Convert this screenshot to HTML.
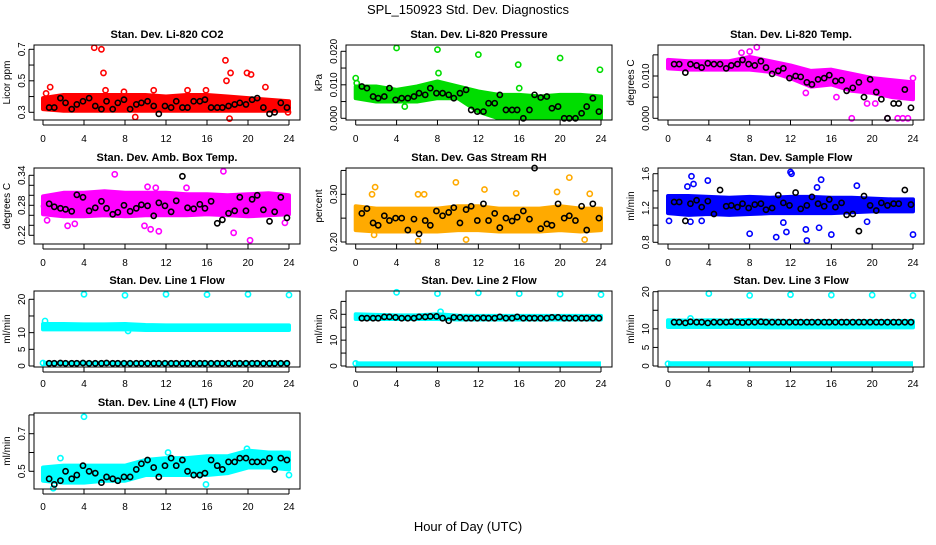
<!DOCTYPE html>
<html><head><meta charset="utf-8"><style>
body{margin:0;background:#fff;}
svg text{font-family:"Liberation Sans",sans-serif;fill:#000;}
</style></head><body>
<svg id="chart" width="936" height="540" xmlns="http://www.w3.org/2000/svg">
<text x="468" y="14" text-anchor="middle" font-size="13">SPL_150923  Std. Dev. Diagnostics</text>
<text x="468" y="531" text-anchor="middle" font-size="13">Hour of Day (UTC)</text>
</svg>
<script>
const blackHours=[0.6,1.1,1.7,2.2,2.8,3.3,3.9,4.5,5.1,5.7,6.2,6.8,7.3,7.9,8.5,9.1,9.6,10.2,10.8,11.3,11.9,12.5,13.0,13.6,14.1,14.7,15.3,15.8,16.4,17.0,17.5,18.1,18.7,19.2,19.8,20.4,20.9,21.5,22.1,22.6,23.2,23.8];
const bandHours=[0,2,4,6,8,10,12,14,16,18,20,22,24];
const xTicks=[0,4,8,12,16,20,24];

const co2Black=[0.33,0.33,0.39,0.36,0.32,0.35,0.37,0.39,0.34,0.32,0.37,0.32,0.36,0.38,0.32,0.35,0.36,0.37,0.34,0.29,0.34,0.33,0.37,0.33,0.33,0.37,0.37,0.38,0.33,0.33,0.33,0.34,0.35,0.36,0.35,0.38,0.39,0.33,0.29,0.30,0.36,0.33];
const co2Lo=[0.32,0.31,0.31,0.31,0.31,0.31,0.31,0.31,0.31,0.31,0.31,0.31,0.31];
const co2Hi=[0.39,0.41,0.41,0.41,0.41,0.41,0.40,0.41,0.41,0.40,0.39,0.38,0.37];
const co2Out=[[5,0.71],[5.7,0.70],[5.9,0.55],[6.1,0.44],[0.7,0.46],[17.8,0.63],[18.3,0.55],[17.9,0.5],[19.9,0.55],[20.3,0.54],[21.7,0.46],[9,0.27],[18.2,0.26],[7.9,0.43],[10.8,0.44],[14.1,0.44],[15.9,0.44],[0.3,0.42],[23.9,0.30]];

const presBlack=[0.0095,0.009,0.0065,0.006,0.0065,0.009,0.0055,0.006,0.006,0.0065,0.0075,0.007,0.009,0.0075,0.0075,0.007,0.006,0.0075,0.0085,0.0025,0.002,0.002,0.0045,0.0045,0.007,0.0025,0.0025,0.0025,0.0,0.0025,0.007,0.0062,0.0065,0.003,0.0035,0.0,0.0,0.0,0.0015,0.0035,0.006,0.002];
const presLo=[0.006,0.005,0.005,0.005,0.006,0.006,0.002,0.000,0.000,0.000,0.000,0.000,0.000];
const presHi=[0.0095,0.0095,0.0085,0.0095,0.011,0.0095,0.008,0.007,0.007,0.0065,0.007,0.007,0.0065];
const presOut=[[0,0.012],[0.1,0.0105],[4,0.021],[8,0.0205],[8.1,0.0135],[12,0.019],[15.9,0.016],[16,0.009],[20,0.018],[23.9,0.0145],[4.8,0.0035]];

const tempBlack=[0.0128,0.0128,0.0108,0.0128,0.0125,0.012,0.013,0.0128,0.0128,0.0118,0.0125,0.0128,0.0138,0.0128,0.0125,0.0135,0.012,0.0105,0.0112,0.0118,0.0095,0.01,0.0098,0.0085,0.008,0.0092,0.0095,0.0102,0.0088,0.009,0.0065,0.0072,0.0085,0.005,0.0092,0.0062,0.0045,0.0,0.0035,0.0035,0.0068,0.0025];
const tempLo=[0.0118,0.0115,0.0115,0.0115,0.0115,0.011,0.0095,0.0075,0.008,0.0065,0.006,0.005,0.0045];
const tempHi=[0.0138,0.0135,0.0135,0.0135,0.0145,0.0135,0.0125,0.0112,0.0115,0.0105,0.0095,0.009,0.0085];
const tempOut=[[8.7,0.0168],[8,0.0158],[7.2,0.0155],[18,0],[21.5,0],[22.5,0],[23,0],[23.5,0],[19.5,0.0035],[20.3,0.0035],[24,0.0095],[13.5,0.006],[16.5,0.005]];

const ambBlack=[0.283,0.277,0.274,0.272,0.268,0.301,0.296,0.269,0.275,0.288,0.274,0.262,0.266,0.28,0.268,0.274,0.281,0.279,0.259,0.285,0.279,0.267,0.289,0.338,0.275,0.273,0.282,0.274,0.288,0.244,0.251,0.264,0.269,0.296,0.269,0.292,0.3,0.271,0.248,0.267,0.296,0.255];
const ambLo=[0.262,0.258,0.258,0.26,0.258,0.26,0.26,0.26,0.262,0.26,0.258,0.26,0.262];
const ambHi=[0.298,0.305,0.305,0.308,0.305,0.305,0.305,0.302,0.302,0.300,0.302,0.304,0.300];
const ambOut=[[7,0.342],[17.6,0.348],[10.2,0.317],[11,0.315],[14,0.315],[2.4,0.239],[3.1,0.243],[9.9,0.239],[10.5,0.232],[11.3,0.228],[18.6,0.225],[20.2,0.21],[0.1,0.278],[0.4,0.25],[23.6,0.245]];

const rhBlack=[0.26,0.27,0.24,0.235,0.255,0.245,0.25,0.25,0.225,0.248,0.217,0.245,0.235,0.265,0.255,0.262,0.272,0.24,0.268,0.275,0.245,0.28,0.245,0.26,0.23,0.25,0.244,0.252,0.265,0.248,0.355,0.228,0.238,0.235,0.28,0.25,0.255,0.245,0.275,0.225,0.28,0.25];
const rhLo=[0.225,0.222,0.222,0.222,0.222,0.225,0.225,0.222,0.222,0.222,0.225,0.222,0.225];
const rhHi=[0.275,0.27,0.27,0.27,0.27,0.275,0.275,0.27,0.27,0.27,0.275,0.27,0.27];
const rhOut=[[1.9,0.315],[1.6,0.30],[6.1,0.30],[6.7,0.30],[9.8,0.325],[12.6,0.31],[15.7,0.302],[19.7,0.305],[20.9,0.335],[22.9,0.301],[6.1,0.202],[10.8,0.205],[22.4,0.205],[1.8,0.215]];

const flowBlack=[1.27,1.27,1.05,1.25,1.29,1.21,1.28,1.13,1.41,1.22,1.23,1.21,1.25,1.2,1.24,1.25,1.18,1.2,1.35,1.26,1.23,1.38,1.19,1.23,1.33,1.25,1.22,1.3,1.21,1.26,1.12,1.13,0.93,1.34,1.23,1.17,1.26,1.23,1.25,1.25,1.41,1.24];
const flowLo=[1.14,1.12,1.13,1.12,1.13,1.14,1.14,1.14,1.14,1.15,1.16,1.16,1.16];
const flowHi=[1.34,1.34,1.33,1.32,1.33,1.32,1.33,1.33,1.32,1.32,1.31,1.30,1.30];
const flowOut=[[2.3,1.57],[2.5,1.48],[1.9,1.45],[3.9,1.52],[12,1.62],[12.1,1.60],[15,1.53],[18.5,1.46],[14.6,1.44],[0.1,1.05],[2.2,1.04],[3.3,1.05],[8,0.9],[10.6,0.86],[11.6,0.92],[13.6,0.82],[13.5,0.95],[14.8,0.97],[16,0.89],[19.5,1.04],[24,0.89],[11.3,1.03]];

const l1Black=[0.8,0.8,0.9,0.8,0.8,0.8,0.9,0.8,0.8,0.8,0.9,0.8,0.8,0.8,0.8,0.8,0.8,0.8,0.8,0.8,0.8,0.8,0.8,0.8,0.8,0.8,0.8,0.8,0.8,0.8,0.8,0.8,0.8,0.8,0.8,0.8,0.8,0.8,0.8,0.8,0.8,0.8];
const l1Lo=[11,11,11,11,11,10.8,10.8,10.8,10.8,10.8,10.8,10.8,10.8];
const l1Hi=[12.6,12.6,12.5,12.5,12.6,12.3,12.2,12.2,12.2,12.2,12.2,12.2,12.2];
const l1Out=[[4,21.5],[8,21.2],[12,21.5],[16,21.4],[20,21.5],[24,21.3],[0,0.9],[8.3,10.5],[0.2,13.5]];

const l2Black=[18.5,18.5,18.5,18.5,19,19,18.8,18.5,18.5,18.5,19,19,19.2,19.2,18.5,17.5,18.8,18.8,18.5,18.5,18.5,18.6,18.5,18.5,19,18.5,18.5,19,18.5,18.5,18.5,18.5,18.5,18.8,18.8,18.5,18.5,18.5,18.5,18.5,18.5,18.5];
const l2Lo=[18.2,18.2,18.2,18.2,18.2,18,18,18,18,18,18,18,18];
const l2Hi=[20,19.8,19.6,19.6,20,19.5,19.4,19.4,19.4,19.4,19.4,19.4,19.4];
const l2Out=[[4,28.5],[8,28],[12,28.3],[16,28],[20,27.8],[24,27.6],[8.3,21],[0,1]];

const l3Black=[11.8,11.8,11.6,11.9,11.8,11.8,11.6,11.8,11.8,11.8,11.9,11.8,11.7,11.8,11.8,11.9,11.8,11.8,11.8,11.8,11.8,11.8,11.8,11.8,11.8,11.8,11.8,11.8,11.8,11.8,11.8,11.8,11.8,11.8,11.8,11.8,11.8,11.8,11.8,11.8,11.8,11.8];
const l3Lo=[10.5,10.5,10.5,10.5,10.5,10.4,10.4,10.4,10.4,10.4,10.4,10.4,10.4];
const l3Hi=[12.3,12.2,12.3,12.2,12.4,12.2,12.1,12.1,12.1,12.1,12.1,12.1,12.1];
const l3Out=[[4,19.5],[8,19],[12,19.2],[16,19.1],[20,19.1],[24,19],[2.2,12.8],[0,0.6]];

const l4Black=[0.46,0.43,0.45,0.5,0.46,0.48,0.53,0.5,0.49,0.44,0.47,0.46,0.45,0.47,0.47,0.51,0.54,0.56,0.52,0.47,0.53,0.57,0.53,0.56,0.5,0.48,0.48,0.49,0.56,0.53,0.51,0.55,0.55,0.57,0.57,0.55,0.55,0.55,0.57,0.51,0.57,0.56];
const l4Lo=[0.45,0.44,0.44,0.45,0.45,0.48,0.48,0.48,0.48,0.49,0.52,0.52,0.51];
const l4Hi=[0.52,0.53,0.53,0.53,0.53,0.56,0.57,0.57,0.58,0.58,0.61,0.60,0.60];
const l4Out=[[4,0.79],[1.7,0.57],[12.2,0.6],[19.9,0.62],[1,0.41],[15.9,0.43],[24,0.48]];

const NS="http://www.w3.org/2000/svg";
const svg=document.getElementById('chart');
function mk(tag,attrs,parent){const e=document.createElementNS(NS,tag);for(const k in attrs)e.setAttribute(k,attrs[k]);(parent||svg).appendChild(e);return e;}

const cols=[{L:34,R:300,x0:43,x24:289},{L:346,R:612,x0:355.7,x24:601},{L:658,R:924,x0:668,x24:913}];
const rows=[{T:45,B:120,lab:138},{T:168,B:244,lab:262},{T:291,B:367,lab:383},{T:413,B:489,lab:506}];

function panel(o){
  const c=cols[o.col],r=rows[o.row];
  const g=mk('g',{});
  
  
  const xs=h=>c.x0+(h/24)*(c.x24-c.x0);
  const ys=v=>o.py0+(v-o.v0)*(o.py1-o.py0)/(o.v1-o.v0);
  let pts=[];
  for(let i=0;i<bandHours.length;i++)pts.push(xs(bandHours[i])+','+ys(o.hi[i]));
  for(let i=bandHours.length-1;i>=0;i--)pts.push(xs(bandHours[i])+','+ys(o.lo[i]));
  const band=mk('polygon',{points:pts.join(' '),fill:o.color,stroke:o.color,'stroke-width':4,'stroke-linejoin':'round'},g);
  
  
  if(o.base!==undefined){
    const bl=mk('line',{x1:xs(0),x2:xs(24),y1:ys(o.base),y2:ys(o.base),stroke:o.color,'stroke-width':5},g);
    
    
  }
  o.out.forEach(p=>{
    const ci=mk('circle',{cx:xs(p[0]),cy:ys(p[1]),r:2.6,fill:'none',stroke:o.color,'stroke-width':1.6},g);
    
    
  });
  o.black.forEach((v,i)=>{
    const ci=mk('circle',{cx:xs(blackHours[i]),cy:ys(v),r:2.6,fill:'none',stroke:'#000','stroke-width':1.6},g);
    
    
  });
  const box=mk('rect',{x:c.L,y:r.T,width:c.R-c.L,height:r.B-r.T,fill:'none',stroke:'#000','stroke-width':1},g);
  
  
  const t=mk('text',{x:(c.L+c.R)/2,y:r.T-7,'text-anchor':'middle','font-size':11,'font-weight':'bold'},g);
  t.textContent=o.title;
  
  
  xTicks.forEach(h=>{
    mk('line',{x1:xs(h),x2:xs(h),y1:r.B,y2:r.B+5,stroke:'#000'},g);
    const tx=mk('text',{x:xs(h),y:r.lab+4,'text-anchor':'middle','font-size':10},g);
    tx.textContent=h;
    
    
  });
  mk('line',{x1:xs(0),x2:xs(24),y1:r.B+5,y2:r.B+5,stroke:'#000'},g);
  o.ticks.forEach(v=>{
    const y=ys(v);
    mk('line',{x1:c.L-5,x2:c.L,y1:y,y2:y,stroke:'#000'},g);
  });
  mk('line',{x1:c.L-5,x2:c.L-5,y1:ys(o.ticks[0]),y2:ys(o.ticks[o.ticks.length-1]),stroke:'#000'},g);
  o.labels.forEach((v,i)=>{
    const y=ys(v);
    const tx=mk('text',{x:0,y:0,'text-anchor':'middle','font-size':10,transform:`translate(${c.L-9},${y}) rotate(-90)`},g);
    tx.textContent=o.labelText[i];
    
    
  });
  const yl=mk('text',{x:0,y:0,'text-anchor':'middle','font-size':10,transform:`translate(${c.L-24},${(r.T+r.B)/2}) rotate(-90)`},g);
  yl.textContent=o.ylab;
  
  
}

panel({name:'panel-co2',col:0,row:0,title:'Stan. Dev. Li-820 CO2',ylab:'Licor ppm',color:'#ff0000',v0:0.3,py0:112.3,v1:0.7,py1:49.3,lo:co2Lo,hi:co2Hi,out:co2Out,black:co2Black,ticks:[0.3,0.4,0.5,0.6,0.7],labels:[0.3,0.5,0.7],labelText:['0.3','0.5','0.7']});
panel({name:'panel-pressure',col:1,row:0,title:'Stan. Dev. Li-820 Pressure',ylab:'kPa',color:'#00dd00',v0:0,py0:118.3,v1:0.02,py1:51.3,lo:presLo,hi:presHi,out:presOut,black:presBlack,ticks:[0,0.005,0.01,0.015,0.02],labels:[0,0.01,0.02],labelText:['0.000','0.010','0.020']});
panel({name:'panel-temp',col:2,row:0,title:'Stan. Dev. Li-820 Temp.',ylab:'degrees C',color:'#ff00ff',v0:0,py0:118.3,v1:0.01,py1:76,lo:tempLo,hi:tempHi,out:tempOut,black:tempBlack,ticks:[0,0.005,0.01,0.015],labels:[0,0.01],labelText:['0.000','0.010']});
panel({name:'panel-amb-box-temp',col:0,row:1,title:'Stan. Dev. Amb. Box Temp.',ylab:'degrees C',color:'#ff00ff',v0:0.22,py0:235.3,v1:0.34,py1:175.3,lo:ambLo,hi:ambHi,out:ambOut,black:ambBlack,ticks:[0.22,0.24,0.26,0.28,0.30,0.32,0.34],labels:[0.22,0.28,0.34],labelText:['0.22','0.28','0.34']});
panel({name:'panel-gas-rh',col:1,row:1,title:'Stan. Dev. Gas Stream RH',ylab:'percent',color:'#ffaa00',v0:0.2,py0:242,v1:0.3,py1:194.3,lo:rhLo,hi:rhHi,out:rhOut,black:rhBlack,ticks:[0.2,0.25,0.3,0.35],labels:[0.2,0.3],labelText:['0.20','0.30']});
panel({name:'panel-sample-flow',col:2,row:1,title:'Stan. Dev. Sample Flow',ylab:'ml/min',color:'#0000ff',v0:0.8,py0:242.3,v1:1.6,py1:173.7,lo:flowLo,hi:flowHi,out:flowOut,black:flowBlack,ticks:[0.8,1.0,1.2,1.4,1.6],labels:[0.8,1.2,1.6],labelText:['0.8','1.2','1.6']});
panel({name:'panel-line1',col:0,row:2,title:'Stan. Dev. Line 1 Flow',ylab:'ml/min',color:'#00ffff',v0:0,py0:366,v1:20,py1:299.3,lo:l1Lo,hi:l1Hi,out:l1Out,black:l1Black,base:0.8,ticks:[0,5,10,15,20],labels:[0,5,10,20],labelText:['0','5','10','20']});
panel({name:'panel-line2',col:1,row:2,title:'Stan. Dev. Line 2 Flow',ylab:'ml/min',color:'#00ffff',v0:0,py0:366,v1:20,py1:314.3,lo:l2Lo,hi:l2Hi,out:l2Out,black:l2Black,base:0.8,ticks:[0,5,10,15,20,25],labels:[0,10,20],labelText:['0','10','20']});
panel({name:'panel-line3',col:2,row:2,title:'Stan. Dev. Line 3 Flow',ylab:'ml/min',color:'#00ffff',v0:0,py0:366,v1:20,py1:291.7,lo:l3Lo,hi:l3Hi,out:l3Out,black:l3Black,base:0.6,ticks:[0,5,10,15,20],labels:[0,5,10,20],labelText:['0','5','10','20']});
panel({name:'panel-line4',col:0,row:3,title:'Stan. Dev. Line 4 (LT) Flow',ylab:'ml/min',color:'#00ffff',v0:0.5,py0:471.3,v1:0.7,py1:433.7,lo:l4Lo,hi:l4Hi,out:l4Out,black:l4Black,ticks:[0.5,0.6,0.7,0.8],labels:[0.5,0.7],labelText:['0.5','0.7']});
</script>
</body></html>
